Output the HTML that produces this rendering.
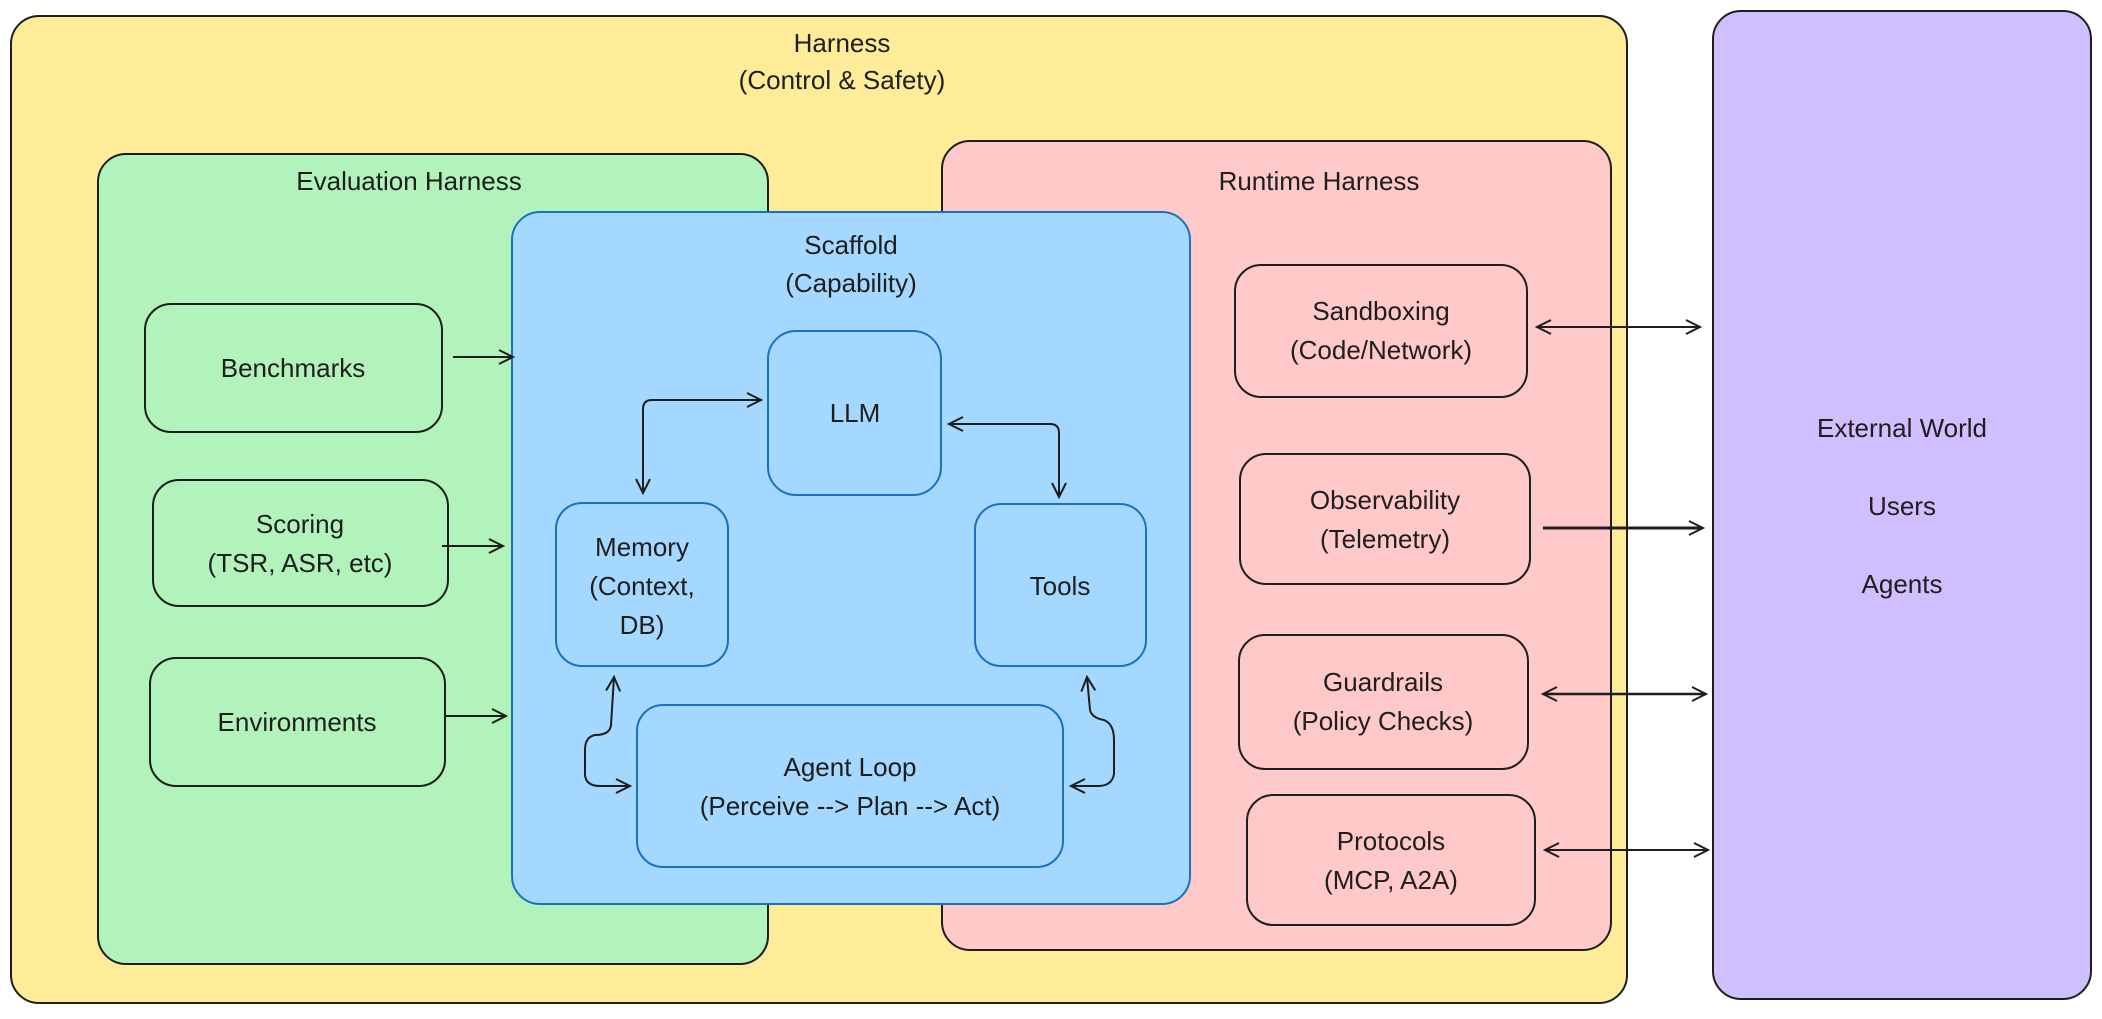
<!DOCTYPE html>
<html><head><meta charset="utf-8"><style>
html,body{margin:0;padding:0;background:#fff;}
svg text{font-family:"Liberation Sans",sans-serif;font-size:26px;fill:#1e1e1e;text-anchor:middle;}
</style></head><body>
<svg width="2102" height="1014" viewBox="0 0 2102 1014" xmlns="http://www.w3.org/2000/svg">
<defs>
<marker id="a" markerWidth="20" markerHeight="20" refX="16" refY="8" orient="auto-start-reverse" markerUnits="userSpaceOnUse">
<path d="M2,1 L16,8 L2,15" fill="none" stroke="#1e1e1e" stroke-width="2"/>
</marker>
</defs>
<!-- outer -->
<rect x="11" y="16" width="1616" height="987" rx="28" fill="#ffec99" stroke="#1e1e1e" stroke-width="2"/>
<rect x="1713" y="11" width="378" height="988" rx="28" fill="#d0bfff" stroke="#1e1e1e" stroke-width="2"/>
<rect x="98" y="154" width="670" height="810" rx="28" fill="#b2f2bb" stroke="#1e1e1e" stroke-width="2"/>
<rect x="942" y="141" width="669" height="809" rx="28" fill="#ffc9c9" stroke="#1e1e1e" stroke-width="2"/>
<rect x="512" y="212" width="678" height="692" rx="28" fill="#a5d8ff" stroke="#1971c2" stroke-width="2"/>

<text x="842" y="52">Harness</text>
<text x="842" y="89">(Control &amp; Safety)</text>
<text x="409" y="190">Evaluation Harness</text>
<text x="1319" y="190">Runtime Harness</text>
<text x="851" y="254">Scaffold</text>
<text x="851" y="292">(Capability)</text>

<!-- eval boxes -->
<rect x="145" y="304" width="297" height="128" rx="26" fill="none" stroke="#1e1e1e" stroke-width="2"/>
<text x="293" y="377">Benchmarks</text>
<rect x="153" y="480" width="295" height="126" rx="26" fill="none" stroke="#1e1e1e" stroke-width="2"/>
<text x="300" y="533">Scoring</text>
<text x="300" y="572">(TSR, ASR, etc)</text>
<rect x="150" y="658" width="295" height="128" rx="26" fill="none" stroke="#1e1e1e" stroke-width="2"/>
<text x="297" y="731">Environments</text>

<line x1="453" y1="357" x2="513" y2="357" stroke="#1e1e1e" stroke-width="2" marker-end="url(#a)"/>
<line x1="442" y1="546" x2="503" y2="546" stroke="#1e1e1e" stroke-width="2" marker-end="url(#a)"/>
<line x1="445" y1="716" x2="506" y2="716" stroke="#1e1e1e" stroke-width="2" marker-end="url(#a)"/>

<!-- scaffold boxes -->
<rect x="768" y="331" width="173" height="164" rx="28" fill="none" stroke="#1971c2" stroke-width="2"/>
<text x="855" y="422">LLM</text>
<rect x="556" y="503" width="172" height="163" rx="26" fill="none" stroke="#1971c2" stroke-width="2"/>
<text x="642" y="556">Memory</text>
<text x="642" y="595">(Context,</text>
<text x="642" y="634">DB)</text>
<rect x="975" y="504" width="171" height="162" rx="26" fill="none" stroke="#1971c2" stroke-width="2"/>
<text x="1060" y="595">Tools</text>
<rect x="637" y="705" width="426" height="162" rx="26" fill="none" stroke="#1971c2" stroke-width="2"/>
<text x="850" y="776">Agent Loop</text>
<text x="850" y="815">(Perceive --&gt; Plan --&gt; Act)</text>

<path d="M761,400 L652,400 Q643,400 643,409 L643,493" fill="none" stroke="#1e1e1e" stroke-width="2" marker-start="url(#a)" marker-end="url(#a)"/>
<path d="M949,424 L1050,424 Q1059,424 1059,433 L1059,497" fill="none" stroke="#1e1e1e" stroke-width="2" marker-start="url(#a)" marker-end="url(#a)"/>
<path d="M614,677 L611,725 Q610,735 595,735 Q585,737 585,750 L585,775 Q586,786 600,786 L630,786" fill="none" stroke="#1e1e1e" stroke-width="2" marker-start="url(#a)" marker-end="url(#a)"/>
<path d="M1087,677 L1090,710 Q1092,718 1104,720 Q1114,724 1114,740 L1114,774 Q1112,786 1098,786 L1071,786" fill="none" stroke="#1e1e1e" stroke-width="2" marker-start="url(#a)" marker-end="url(#a)"/>

<!-- runtime boxes -->
<rect x="1235" y="265" width="292" height="132" rx="26" fill="none" stroke="#1e1e1e" stroke-width="2"/>
<text x="1381" y="320">Sandboxing</text>
<text x="1381" y="359">(Code/Network)</text>
<rect x="1240" y="454" width="290" height="130" rx="26" fill="none" stroke="#1e1e1e" stroke-width="2"/>
<text x="1385" y="509">Observability</text>
<text x="1385" y="548">(Telemetry)</text>
<rect x="1239" y="635" width="289" height="134" rx="26" fill="none" stroke="#1e1e1e" stroke-width="2"/>
<text x="1383" y="691">Guardrails</text>
<text x="1383" y="730">(Policy Checks)</text>
<rect x="1247" y="795" width="288" height="130" rx="26" fill="none" stroke="#1e1e1e" stroke-width="2"/>
<text x="1391" y="850">Protocols</text>
<text x="1391" y="889">(MCP, A2A)</text>

<line x1="1537" y1="327" x2="1700" y2="327" stroke="#1e1e1e" stroke-width="2" marker-start="url(#a)" marker-end="url(#a)"/>
<line x1="1543" y1="528" x2="1703" y2="528" stroke="#1e1e1e" stroke-width="3" marker-end="url(#a)"/>
<line x1="1543" y1="694" x2="1706" y2="694" stroke="#1e1e1e" stroke-width="2.5" marker-start="url(#a)" marker-end="url(#a)"/>
<line x1="1545" y1="850" x2="1708" y2="850" stroke="#1e1e1e" stroke-width="2" marker-start="url(#a)" marker-end="url(#a)"/>

<text x="1902" y="437">External World</text>
<text x="1902" y="515">Users</text>
<text x="1902" y="593">Agents</text>
</svg>
</body></html>
